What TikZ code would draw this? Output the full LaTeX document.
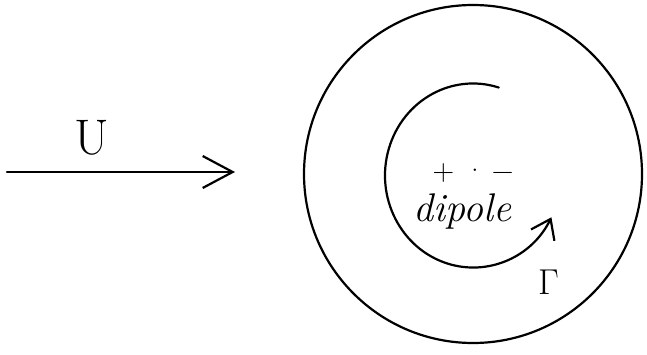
\documentclass[tikz,border=0pt]{standalone}
\usepackage{amsmath,amssymb}
\usepackage{fontspec}
\usepackage{xcolor}
\usepackage{tikz}
\usetikzlibrary{arrows.meta, positioning}

\begin{document}
\begin{tikzpicture}[x=1pt, y=1pt]
    \tikzstyle{line} = [draw, line width=2.2pt, line cap=round]
    \tikzstyle{flowtip} = [-{Straight Barb[length=30pt, width=32pt, line width=2.2pt]}]
    \tikzstyle{spintip} = [-{Straight Barb[length=18pt, width=26pt, line width=2.2pt]}]
    \tikzstyle{hand} = [inner sep=0pt, font=\fontsize{40}{44}\selectfont]

    \useasboundingbox (0,0) rectangle (647,354);

    \coordinate (body) at (473,180);
    \coordinate (vortex) at (473,178.5);
    \coordinate (inflow) at (7,182);
    \coordinate (inflowend) at (235,182);

    \node [hand, font=\fontsize{50}{54}\selectfont] (ulabel) at (92,216) {U};
    \node [hand, font=\fontsize{30}{32}\selectfont] (charges) at (473,181) {+\hspace{10pt}·\hspace{6pt}−};
    \node [hand] (dipole) at (462,143) {\itshape dipole};
    \node [hand, font=\fontsize{36}{40}\selectfont] (gamma) at (549,72) {Γ};

    \path [line, flowtip] (inflow) -- (inflowend);
    \draw [line] (body) circle [radius=169];
    \path [line, spintip] ([shift={(73:88 and 92)}]vortex) arc [start angle=73, end angle=333, x radius=88, y radius=92];
\end{tikzpicture}
\end{document}
